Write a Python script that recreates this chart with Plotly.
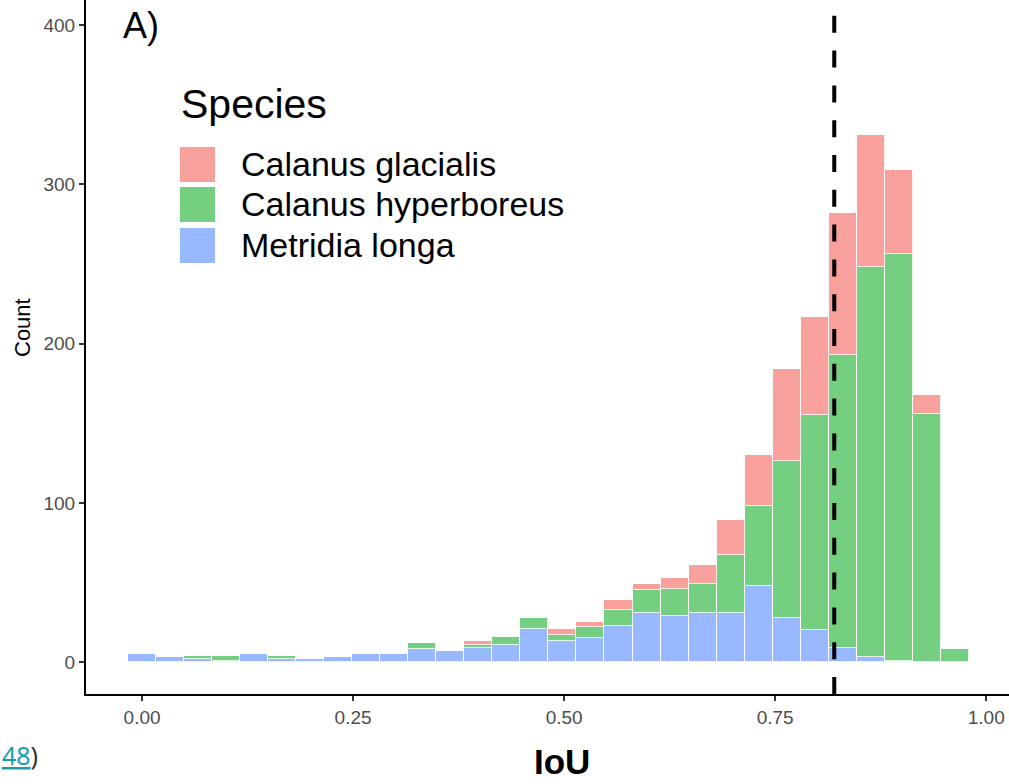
import plotly.graph_objects as go

# ---- data ----
iou_bin_centers = [0.0000, 0.0332, 0.0664, 0.0996, 0.1328, 0.1660, 0.1992, 0.2324,
                   0.2656, 0.2988, 0.3320, 0.3652, 0.3984, 0.4316, 0.4648, 0.4980,
                   0.5312, 0.5644, 0.5976, 0.6308, 0.6640, 0.6972, 0.7304, 0.7636,
                   0.7968, 0.8300, 0.8632, 0.8964, 0.9296, 0.9628]
bin_width = 0.0332

metridia_longa = [5, 3, 2, 1, 5, 2, 2, 3, 5, 5, 8, 7, 9, 11, 21, 13,
                  15, 23, 31, 29, 31, 31, 48, 28, 20, 9, 3, 1, 0, 0]
calanus_hyperboreus = [0, 0, 2, 3, 0, 2, 0, 0, 0, 0, 4, 0, 2, 5, 7, 4,
                       7, 10, 14, 17, 18, 36, 50, 98, 135, 184, 245, 255, 156, 8]
calanus_glacialis = [0, 0, 0, 0, 0, 0, 0, 0, 0, 0, 0, 0, 2, 0, 0, 4,
                     3, 6, 4, 7, 12, 22, 32, 58, 62, 89, 83, 53, 12, 0]

species = ["Calanus glacialis", "Calanus hyperboreus", "Metridia longa"]
colors = {"Calanus glacialis": "#F8A09B",
          "Calanus hyperboreus": "#74CF80",
          "Metridia longa": "#98B8FF"}
threshold = 0.82

x_ticks = [0.0, 0.25, 0.5, 0.75, 1.0]
x_tick_labels = ["0.00", "0.25", "0.50", "0.75", "1.00"]
y_ticks = [0, 100, 200, 300, 400]

# ---- geometry helpers (pixels -> paper) ----
W, H = 1009, 784
ML, MR, MT, MB = 86, 0, 0, 90
PW, PH = W - ML - MR, H - MT - MB


def px(xp):
    return (xp - ML) / PW


def py(yp):
    return (H - MB - yp) / PH


FONT = "Liberation Sans, Arial, Helvetica, sans-serif"

fig = go.Figure()
# stacking: first trace at bottom
for name, vals in [("Metridia longa", metridia_longa),
                   ("Calanus hyperboreus", calanus_hyperboreus),
                   ("Calanus glacialis", calanus_glacialis)]:
    fig.add_trace(go.Bar(
        x=iou_bin_centers, y=vals, width=bin_width, name=name,
        marker=dict(color=colors[name], line=dict(color="white", width=0.8)),
        showlegend=False,
    ))

axis_common = dict(showgrid=False, zeroline=False, showline=True, linecolor="black",
                   linewidth=2, ticks="outside", ticklen=5, tickwidth=1.5,
                   tickcolor="#333333", automargin=False,
                   tickfont=dict(size=19, color="#4D4D4D"))

fig.update_layout(
    width=W, height=H,
    margin=dict(l=ML, r=MR, t=MT, b=MB, autoexpand=False),
    barmode="stack", bargap=0,
    plot_bgcolor="white", paper_bgcolor="white",
    font=dict(family=FONT),
    xaxis=dict(range=[-0.0664, 1.027], tickvals=x_ticks, ticktext=x_tick_labels,
               **axis_common),
    yaxis=dict(range=[-20, 415.7], tickvals=y_ticks, **axis_common),
)

# threshold line
fig.add_shape(type="line", xref="x", yref="paper", x0=threshold, x1=threshold,
              y0=0, y1=1, line=dict(color="black", width=4, dash="17px,17.8px"))

# custom legend
fig.add_annotation(x=px(179), y=py(104), xref="paper", yref="paper",
                   text="Species", showarrow=False, xanchor="left", yanchor="middle",
                   font=dict(size=41, color="black", family=FONT))
row_tops = [147, 187, 228]
for name, top in zip(species, row_tops):
    fig.add_shape(type="rect", xref="paper", yref="paper",
                  x0=px(180), x1=px(215), y0=py(top + 35), y1=py(top),
                  fillcolor=colors[name], line=dict(width=0))
    fig.add_annotation(x=px(239), y=py(top + 17), xref="paper", yref="paper",
                       text=name, showarrow=False, xanchor="left", yanchor="middle",
                       font=dict(size=34, color="black", family=FONT))

# panel label
fig.add_annotation(x=px(121), y=py(26), xref="paper", yref="paper", text="A)",
                   showarrow=False, xanchor="left", yanchor="middle",
                   font=dict(size=36, color="black", family=FONT))

# axis titles
fig.add_annotation(x=px(562), y=py(783), xref="paper", yref="paper",
                   text="<b>IoU</b>", showarrow=False, xanchor="center", yanchor="bottom",
                   font=dict(size=35, color="black", family=FONT))
fig.add_annotation(x=px(22), y=py(328), xref="paper", yref="paper",
                   text="Count", textangle=-90, showarrow=False,
                   xanchor="center", yanchor="middle",
                   font=dict(size=22, color="black", family=FONT))

# citation fragment at bottom-left
fig.add_annotation(x=px(0), y=py(755), xref="paper", yref="paper",
                   text="<span style='color:#1A9BAA'><u>48</u></span>)",
                   showarrow=False, xanchor="left", yanchor="middle",
                   font=dict(size=25, color="#333333", family="Noto Sans, sans-serif"))

fig.write_html("out.html", config={"displayModeBar": False},
               post_script="document.body.style.margin='0px';")
